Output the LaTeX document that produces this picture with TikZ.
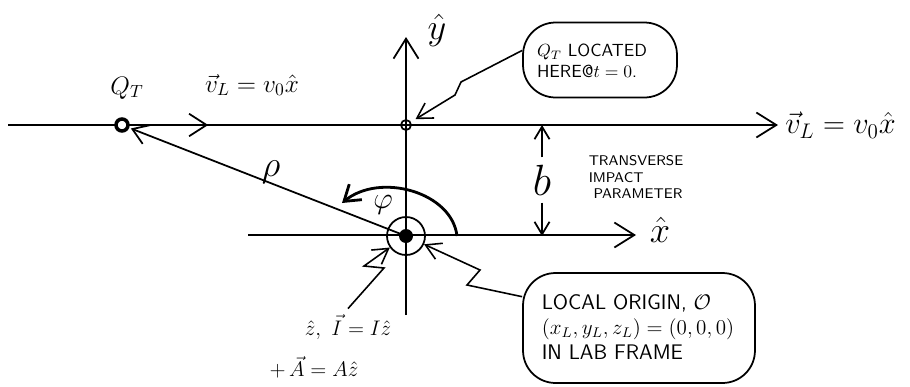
\documentclass[tikz,border=0pt]{standalone}
\usepackage{amsmath}
\usepackage{amssymb}
\usetikzlibrary{positioning,arrows.meta,backgrounds,calc,shapes.geometric,decorations.markings}

\begin{document}
\begin{tikzpicture}[
  x=0.02cm, y=-0.02cm,
  arr/.style={-{Straight Barb[length=4mm,width=5mm]}, line width=1pt},
  rhoarr/.style={-{Straight Barb[length=3mm,width=4mm]}, line width=1pt},
  zigarr/.style={-{Straight Barb[length=3mm,width=3.5mm]}, line width=0.9pt},
  smallarr/.style={-{Straight Barb[length=2.5mm,width=3mm]}, line width=1pt},
  midarr/.style={postaction={decorate}, decoration={markings,
     mark=at position #1 with {\arrow{Straight Barb[length=3.5mm,width=4.5mm]}}}},
  ring/.style={draw, circle, line width=1pt, inner sep=0pt, minimum size=#1},
  bubble/.style={draw, rounded corners=0.65cm, line width=1pt, inner sep=0pt},
  notetxt/.style={align=left, inner sep=1pt}
]
\useasboundingbox (0,0) rectangle (910,386);
\node[ring=2.4mm, line width=2pt, fill=white] (QT) at (122,125) {};
\node[ring=2mm] (QT0) at (406,125) {};
\node[circle, fill=black, inner sep=0pt, minimum size=2.8mm] (Odot) at (406,236) {};
\node[ring=7.6mm] (O) at (406,236) {};
\coordinate (lstart) at (8,125);
\coordinate (lend) at (778,125);
\coordinate (ytop) at (406,37);
\coordinate (ybot) at (406,315);
\coordinate (xstart) at (248,235);
\coordinate (xend) at (636,235);
\coordinate (phistart) at ($(O)+(51,0)$);
\coordinate (phiend) at (342,203);

\node[font=\LARGE, anchor=west, inner sep=0pt] (vL) at (785,125) {$\vec{v}_L = v_0\hat{x}$};
\node[font=\Large] (vLtop) at (252,85) {$\vec{v}_L = v_0\hat{x}$};
\node[font=\Large] (QTlbl) at (127,88) {$Q_T$};
\node[font=\huge] (yhat) at (437,30) {$\hat{y}$};
\node[font=\huge] (xhat) at (660,230) {$\hat{x}$};
\node[font=\huge] (rho) at (271,172) {$\rho$};
\node[font=\LARGE] (phi) at (383,205) {$\varphi$};
\node[font=\Huge, inner sep=4pt] (b) at (542,180) {$b$};
\node[font=\sffamily\footnotesize, align=left] (impact) at (636,177) {TRANSVERSE\\IMPACT\\\ PARAMETER};

\node[bubble, minimum width=3.08cm, minimum height=1.5cm] (note1) at (600,60) {};
\node[notetxt, font=\sffamily] (note1txt) at (592,61) {$Q_T$ LOCATED\\HERE@$t=0$.};
\node[bubble, minimum width=4.64cm, minimum height=2.2cm] (note2) at (639,328) {};
\node[notetxt, font=\sffamily\large] (note2txt) at (638,327) {LOCAL ORIGIN, $\mathcal{O}$\\$(x_L,y_L,z_L)=(0,0,0)$\\IN LAB FRAME};
\node[font=\large] (zlbl) at (348,327) {$\hat{z},\ \vec{I}=I\hat{z}$};
\node[font=\large] (albl) at (314,367) {$+\,\vec{A}=A\hat{z}$};

\begin{scope}[on background layer]
\draw[arr, midarr=0.26] (lstart) -- (lend);
\draw[arr] (ybot) -- (ytop);
\draw[arr] (xstart) -- (xend);
\end{scope}
\draw[rhoarr, shorten >=1pt] (Odot.center) -- (QT);
\draw[rhoarr, line width=1.6pt] (phistart) .. controls (452,192) and (380,172) .. (phiend);
\draw[smallarr] (b) -- (b |- QT0);
\draw[smallarr] (b) -- (b |- O);
\draw[zigarr, shorten >=3pt] (note1.173) -- (461,82) -- (455,95) -- (QT0);
\draw[zigarr] (note2.165) -- (467,285) -- (480,270) -- (O);
\draw[zigarr] (zlbl.north) -- (384,268) -- (364,266) -- (O);
\end{tikzpicture}
\end{document}
